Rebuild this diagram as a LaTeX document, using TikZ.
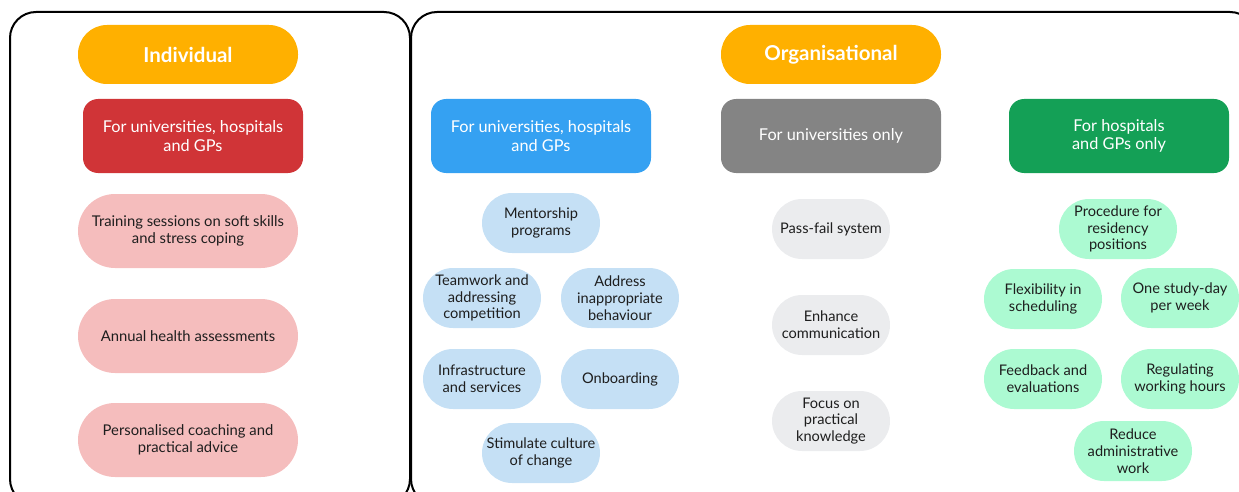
\documentclass[tikz,border=0pt]{standalone}
\usepackage{fontspec}
\setmainfont{Lato}
\definecolor{cOrange}{RGB}{255,176,0}
\definecolor{cRed}{RGB}{208,52,55}
\definecolor{cPink}{RGB}{245,189,189}
\definecolor{cBlue}{RGB}{53,161,242}
\definecolor{cGrey}{RGB}{132,132,132}
\definecolor{cGreen}{RGB}{20,160,86}
\definecolor{cLBlue}{RGB}{197,224,245}
\definecolor{cLGrey}{RGB}{235,236,238}
\definecolor{cMint}{RGB}{172,250,210}
\definecolor{cText}{RGB}{30,30,30}
\begin{document}
\begin{tikzpicture}[x=1pt,y=1pt,
  title/.style={fill=cOrange, rounded corners=29pt, minimum width=220pt, minimum height=59pt, inner sep=0pt,
    text=white, font=\fontsize{20.5}{23}\selectfont\bfseries, align=center},
  header/.style={rounded corners=15pt, minimum width=220pt, minimum height=74pt, inner sep=0pt,
    text=white, font=\fontsize{16.3}{18.5}\selectfont, align=center},
  bigpill/.style={fill=cPink, rounded corners=37pt, minimum width=220pt, minimum height=74pt, inner sep=0pt,
    text=cText, font=\fontsize{14.8}{17}\selectfont, align=center},
  pill/.style={rounded corners=30pt, minimum width=118pt, minimum height=60pt, inner sep=0pt,
    text=cText, font=\fontsize{14.6}{16.7}\selectfont, align=center},
  frame/.style={draw=black, line width=2pt, rounded corners=26pt}
]
\useasboundingbox (0,0) rectangle (1239,-492);
\begin{scope}
\clip (0,0) rectangle (1239,-492);
\draw[frame] (10,-12) rectangle (410,-505);
\draw[frame] (411,-12) rectangle (1256,-505);
\end{scope}

% Individual
\node[title] (ind) at (188,-54.5) {Individual};
\node[header, fill=cRed] (hind) at (193,-136) {For universities, hospitals\\and GPs};
\node[bigpill] (p1) at (188,-231) {Training sessions on soft skills\\and stress coping};
\node[bigpill] (p2) at (188,-336) {Annual health assessments};
\node[bigpill] (p3) at (188,-440) {Personalised coaching and\\practical advice};

% Organisational
\node[title] (org) at (831,-54.5) {Organisational};
\node[header, fill=cBlue] (hblue) at (541,-136) {For universities, hospitals\\and GPs};
\node[header, fill=cGrey] (hgrey) at (831,-136) {For universities only};
\node[header, fill=cGreen] (hgreen) at (1119,-136) {For hospitals\\and GPs only};

% Blue
\node[pill, fill=cLBlue] (b1) at (541,-223) {Mentorship\\programs};
\node[pill, fill=cLBlue] (b2) at (482,-298) {Teamwork and\\addressing\\competition};
\node[pill, fill=cLBlue] (b3) at (620,-298) {Address\\inappropriate\\behaviour};
\node[pill, fill=cLBlue] (b4) at (482,-379) {Infrastructure\\and services};
\node[pill, fill=cLBlue] (b5) at (620,-379) {Onboarding};
\node[pill, fill=cLBlue] (b6) at (541,-453) {Stimulate culture\\of change};

% Grey
\node[pill, fill=cLGrey] (g1) at (831,-229) {Pass-fail system};
\node[pill, fill=cLGrey] (g2) at (831,-325) {Enhance\\communication};
\node[pill, fill=cLGrey] (g3) at (831,-421) {Focus on\\practical\\knowledge};

% Green
\node[pill, fill=cMint] (m1) at (1118,-229) {Procedure for\\residency\\positions};
\node[pill, fill=cMint] (m2) at (1043,-299) {Flexibility in\\scheduling};
\node[pill, fill=cMint] (m3) at (1180,-298) {One study-day\\per week};
\node[pill, fill=cMint] (m4) at (1043,-379) {Feedback and\\evaluations};
\node[pill, fill=cMint] (m5) at (1180,-379) {Regulating\\working hours};
\node[pill, fill=cMint] (m6) at (1133,-451) {Reduce\\administrative\\work};
\end{tikzpicture}
\end{document}
